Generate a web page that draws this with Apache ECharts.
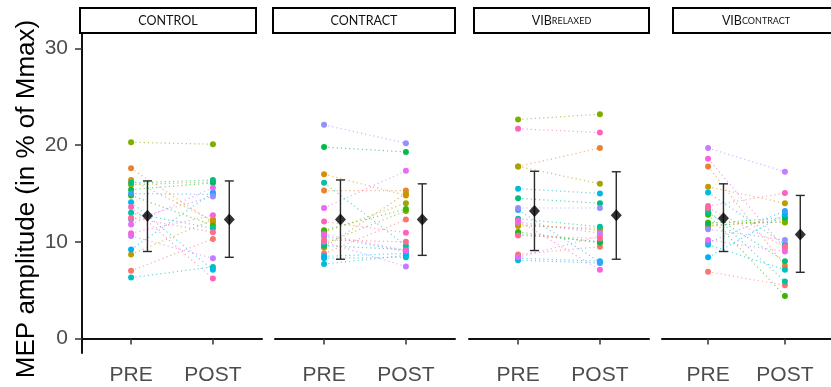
<!DOCTYPE html>
<html>
<head>
<meta charset="utf-8">
<script src="https://cdn.jsdelivr.net/npm/echarts@6/dist/echarts.min.js"></script>
<style>
  html, body { margin: 0; padding: 0; background: #fff; }
  #chart { width: 831px; height: 387px; }
</style>
</head>
<body>
<div id="chart"></div>
<script>
// Panel (condition) labels: main part plus small-caps suffix
const panelMain = ['CONTROL', 'CONTRACT', 'VIB', 'VIB'];
const panelSub = ['', '', 'RELAXED', 'CONTRACT'];
const timePoints = ['PRE', 'POST'];
const yTicks = [0, 10, 20, 30];

// One colour per subject (20 subjects)
const subjectColors = ['#F8766D', '#EA8331', '#D89000', '#C09B00', '#A3A500', '#7CAE00', '#39B600', '#00BB4E', '#00BF7D', '#00C1A3',
  '#00BFC4', '#00BAE0', '#00B0F6', '#35A2FF', '#9590FF', '#C77CFF', '#E76BF3', '#FA62DB', '#FF62BC', '#FF6C91'];

// MEP amplitude (% of Mmax) per subject, PRE and POST, for each condition
const controlPre = [7.0, 17.6, 16.4, 8.7, 15.9, 20.3, 14.8, 15.4, 16.1, 13.0, 6.3, 14.1, 9.2, 15.0, 12.3, 10.6, 11.8, 10.9, 13.6, 12.5];
const controlPost = [10.3, 12.0, 12.2, 12.3, 16.2, 20.1, 11.7, 16.1, 16.4, 11.4, 7.4, 7.1, 15.1, 14.9, 14.7, 8.3, 15.6, 12.75, 6.2, 11.0];
const contractPre = [8.8, 15.3, 17.0, 9.4, 11.0, 9.8, 11.2, 19.8, 9.6, 16.1, 8.3, 7.7, 8.5, 10.6, 22.1, 10.0, 13.5, 10.8, 12.1, 10.2];
const contractPost = [12.3, 15.3, 14.8, 15.0, 14.0, 13.2, 13.4, 19.3, 9.2, 9.6, 8.4, 8.6, 8.8, 9.0, 20.2, 7.45, 17.35, 9.1, 10.95, 10.0];
const vibRelaxedPre = [8.7, 17.8, 11.8, 11.65, 17.8, 22.65, 11.03, 10.8, 14.5, 12.4, 8.1, 15.5, 8.3, 13.3, 13.5, 12.06, 8.4, 12.2, 21.7, 10.65];
const vibRelaxedPost = [9.5, 19.7, 11.2, 11.4, 16.0, 23.2, 9.9, 10.0, 14.0, 11.55, 7.8, 15.0, 8.0, 7.9, 13.5, 10.9, 10.6, 7.1, 21.3, 10.35];
const vibContractPre = [6.9, 17.8, 11.7, 15.7, 11.6, 12.0, 12.8, 11.9, 13.0, 13.3, 9.7, 15.1, 8.4, 9.9, 11.3, 19.7, 10.2, 18.6, 13.7, 13.5];
const vibContractPost = [5.5, 7.5, 12.1, 14.0, 12.3, 12.0, 4.4, 12.5, 8.0, 5.9, 7.1, 9.75, 12.85, 13.2, 10.2, 17.25, 9.0, 9.3, 15.05, 9.5];

// Group mean and error-bar ends per condition
const meanPre = [12.7, 12.3, 13.2, 12.45];
const meanPost = [12.3, 12.3, 12.75, 10.75];
const lowPre = [9.0, 8.2, 9.1, 9.0];
const highPre = [16.3, 16.4, 17.3, 16.0];
const lowPost = [8.4, 8.6, 8.2, 6.85];
const highPost = [16.3, 16.0, 17.25, 14.8];

const preByPanel = [controlPre, contractPre, vibRelaxedPre, vibContractPre];
const postByPanel = [controlPost, contractPost, vibRelaxedPost, vibContractPost];

const panelLeft = [82, 275, 469, 662];
const panelWidth = 180;
const meanShift = 0.2;
const FONT = '"Liberation Sans", Arial, sans-serif';

const grids = [], xAxes = [], yAxes = [], series = [];

panelLeft.forEach((left, p) => {
  grids.push({ left: left, top: 34, width: panelWidth, height: 319 });
  xAxes.push({
    type: 'value', gridIndex: p, min: 0.4, max: 2.6,
    axisLine: { show: true, lineStyle: { color: '#111', width: 2 } },
    axisTick: { show: true, customValues: [1, 2], length: 6, lineStyle: { color: '#333', width: 1.5 } },
    axisLabel: {
      customValues: [1, 2], margin: 12, color: '#4D4D4D', fontSize: 21, fontFamily: FONT,
      formatter: v => timePoints[Math.round(v) - 1]
    },
    splitLine: { show: false }
  });
  yAxes.push({
    type: 'value', gridIndex: p, min: -1.5, max: 31.5, show: p === 0,
    axisLine: { show: true, lineStyle: { color: '#111', width: 2 } },
    axisTick: { show: true, customValues: yTicks, length: 7, lineStyle: { color: '#333', width: 1.5 } },
    axisLabel: { customValues: yTicks, margin: 14, color: '#4D4D4D', fontSize: 21, fontFamily: FONT },
    splitLine: { show: false }
  });

  const pre = preByPanel[p], post = postByPanel[p];
  pre.forEach((v, s) => {
    series.push({
      type: 'line', xAxisIndex: p, yAxisIndex: p,
      data: [[1, v], [2, post[s]]],
      symbol: 'circle', symbolSize: 6,
      itemStyle: { color: subjectColors[s] },
      lineStyle: { color: subjectColors[s], width: 1.2, type: [1.2, 3], opacity: 0.6 },
      z: 2, silent: true
    });
  });

  series.push({
    type: 'custom', xAxisIndex: p, yAxisIndex: p, z: 5, silent: true,
    data: [[1 + meanShift, lowPre[p], highPre[p]], [2 + meanShift, lowPost[p], highPost[p]]],
    renderItem: (params, api) => {
      const x = api.value(0);
      const a = api.coord([x, api.value(1)]);
      const b = api.coord([x, api.value(2)]);
      const w = 4.5;
      const st = { stroke: '#2a2a2a', lineWidth: 1.4 };
      return {
        type: 'group', children: [
          { type: 'line', shape: { x1: a[0], y1: a[1], x2: b[0], y2: b[1] }, style: st },
          { type: 'line', shape: { x1: a[0] - w, y1: a[1], x2: a[0] + w, y2: a[1] }, style: st },
          { type: 'line', shape: { x1: b[0] - w, y1: b[1], x2: b[0] + w, y2: b[1] }, style: st }
        ]
      };
    }
  });
  series.push({
    type: 'scatter', xAxisIndex: p, yAxisIndex: p, z: 6, silent: true,
    data: [[1 + meanShift, meanPre[p]], [2 + meanShift, meanPost[p]]],
    symbol: 'diamond', symbolSize: [11, 12],
    itemStyle: { color: '#000' }
  });
});

// Strip boxes above each panel
const stripBoxes = [[80, 176], [273, 182], [474, 175], [673, 180]];
const graphics = [];
stripBoxes.forEach(([x, w], p) => {
  graphics.push({
    type: 'rect', shape: { x: x, y: 8, width: w, height: 25 },
    style: { fill: '#fff', stroke: '#000', lineWidth: 2 }, z: 10
  });
  const text = panelSub[p] ? '{a|' + panelMain[p] + '}{b|' + panelSub[p] + '}' : '{a|' + panelMain[p] + '}';
  graphics.push({
    type: 'text', x: p === 3 ? 756 : x + w / 2, y: 21, z: 11,
    style: {
      text: text, align: 'center', verticalAlign: 'middle',
      rich: {
        a: { fontSize: 12.5, fontFamily: 'Lato, sans-serif', fill: '#111', fontWeight: 'normal' },
        b: { fontSize: 9, fontFamily: 'Lato, sans-serif', fill: '#111', fontWeight: 'normal' }
      }
    }
  });
});
graphics.push({
  type: 'text', x: 27, y: 199, rotation: Math.PI / 2, z: 11,
  style: {
    text: 'MEP amplitude (in % of Mmax)', font: '26px ' + FONT, fill: '#000',
    align: 'center', verticalAlign: 'middle'
  }
});

const chart = echarts.init(document.getElementById('chart'), null, { renderer: 'canvas' });
chart.setOption({
  animation: false,
  backgroundColor: '#fff',
  grid: grids,
  xAxis: xAxes,
  yAxis: yAxes,
  series: series,
  graphic: graphics
});
</script>
</body>
</html>
